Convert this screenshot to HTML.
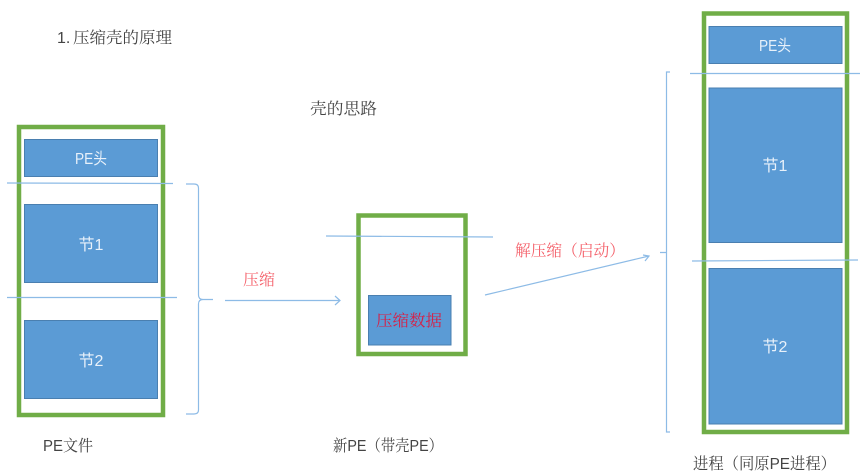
<!DOCTYPE html>
<html>
<head>
<meta charset="utf-8">
<style>
html,body{margin:0;padding:0;background:#fff;width:864px;height:475px;overflow:hidden}
svg{display:block}
text{font-family:"Liberation Sans","Noto Serif CJK SC",serif;font-size:16px}
.w{fill:#e8f1fa;font-family:"Liberation Sans","Noto Sans CJK SC",sans-serif;text-anchor:middle}
.d{fill:#444}
.r{fill:#f4606a}
.b{fill:#5b9bd5;stroke:#4a7fb0;stroke-width:1}
.g{fill:none;stroke:#70ad47;stroke-width:4.5}
.l{fill:none;stroke:#8dbbe6;stroke-width:1.2}
#all{filter:blur(0.35px)}
</style>
</head>
<body>
<svg width="864" height="475" viewBox="0 0 864 475" xmlns="http://www.w3.org/2000/svg">
<rect width="864" height="475" fill="#fff"/>
<g id="all">
<text class="d" x="57" y="43">1.</text>
<text class="d" x="73" y="43" textLength="99" lengthAdjust="spacingAndGlyphs">压缩壳的原理</text>
<text class="d" x="310" y="114" textLength="67" lengthAdjust="spacingAndGlyphs">壳的思路</text>

<rect class="b" x="24.5" y="139.5" width="133" height="37"/>
<rect class="b" x="24.5" y="204.5" width="133" height="78"/>
<rect class="b" x="24.5" y="320.5" width="133" height="78"/>
<rect class="g" x="19" y="127" width="144" height="288"/>
<text class="w" x="91" y="164" textLength="32" lengthAdjust="spacingAndGlyphs">PE头</text>
<text class="w" x="91" y="250">节1</text>
<text class="w" x="91" y="366">节2</text>
<path class="l" d="M7 183 L173 183.5"/>
<path class="l" d="M7 297.5 L177 297.5"/>
<path class="l" d="M186 184 H194 Q198.5 184 198.5 188 V295 Q198.5 299.5 203 299.5 H213 M203 299.5 Q198.5 299.5 198.5 304 V410 Q198.5 414 194 414 H186"/>

<path class="l" d="M225 300.5 H340 M335 296 L340 300.5 L335 305"/>
<text class="r" x="243" y="285" textLength="32" lengthAdjust="spacingAndGlyphs">压缩</text>

<rect class="b" x="368.5" y="295.5" width="82.5" height="49.5"/>
<rect class="g" x="358.5" y="215.5" width="107" height="138.5"/>
<path class="l" d="M326 236 L493 237"/>
<text x="376" y="326" textLength="66" lengthAdjust="spacingAndGlyphs" fill="#d81e45">压缩数据</text>

<path class="l" d="M485 295 L649 256 M643 255 L649 256 L645 261"/>
<text class="r" x="515" y="256" textLength="110" lengthAdjust="spacingAndGlyphs">解压缩（启动）</text>

<path class="l" d="M670 72 H666.5 V432 H670 M660 252.5 H666.5"/>

<rect class="b" x="709" y="26.5" width="133" height="37"/>
<rect class="b" x="709" y="88" width="133" height="154.500"/>
<rect class="b" x="709" y="268.500" width="133" height="155.500"/>
<rect class="g" x="704" y="13.500" width="143" height="418.500"/>
<text class="w" x="775" y="51" textLength="32" lengthAdjust="spacingAndGlyphs">PE头</text>
<text class="w" x="775" y="171">节1</text>
<text class="w" x="775" y="352">节2</text>
<path class="l" d="M690 73.500 H860"/>
<path class="l" d="M692 261 L858 260"/>

<text class="d" x="43" y="451" textLength="50" lengthAdjust="spacingAndGlyphs">PE文件</text>
<text class="d" x="333" y="451" textLength="110" lengthAdjust="spacingAndGlyphs">新PE（带壳PE）</text>
<text class="d" x="693" y="469" textLength="143" lengthAdjust="spacingAndGlyphs">进程（同原PE进程）</text>
</g>
</svg>
</body>
</html>
